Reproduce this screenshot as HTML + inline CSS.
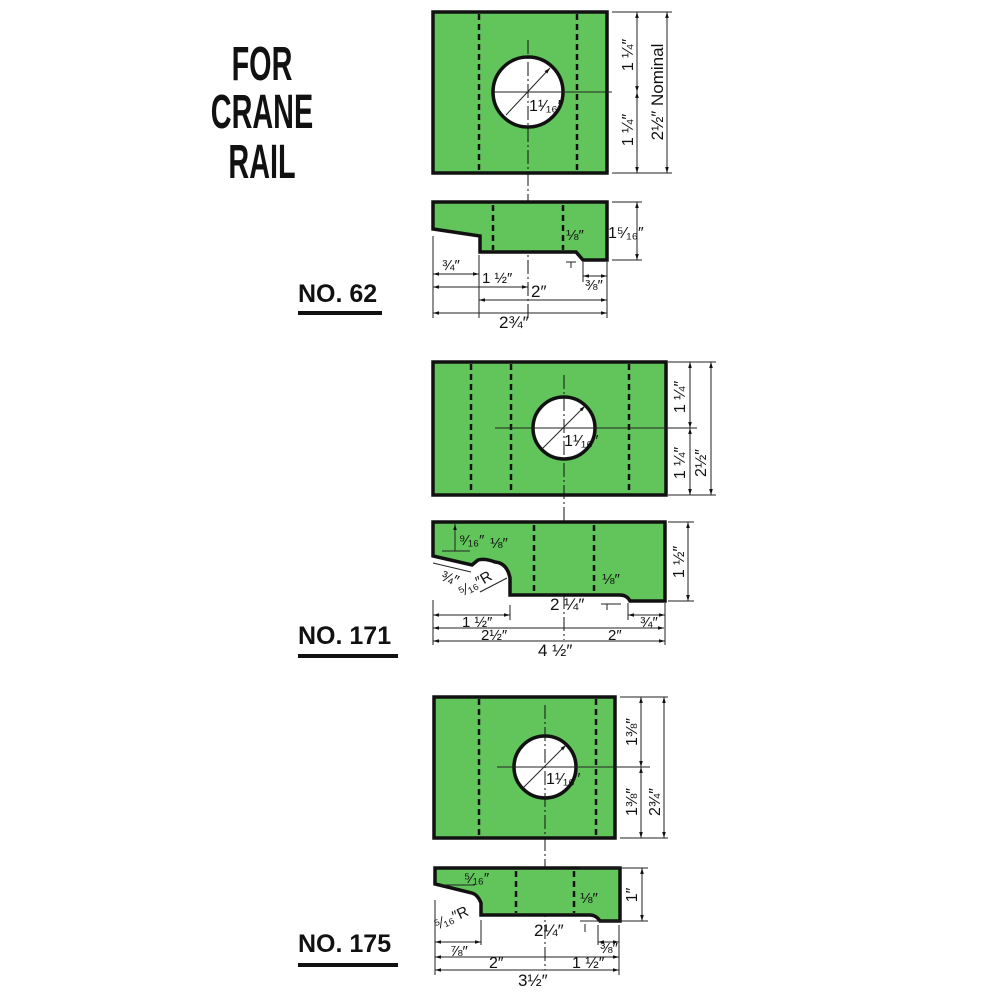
<!DOCTYPE html>
<html><head><meta charset="utf-8"><style>
html,body{margin:0;padding:0;background:#fff;width:1000px;height:1000px;overflow:hidden}
svg{display:block}
text{font-family:"Liberation Sans",sans-serif;fill:#111}
.g{fill:#62c55b;stroke:#111;stroke-width:3.5}
.d{stroke:#111;stroke-width:2.5;stroke-dasharray:6,4;fill:none}
.c{stroke:#111;stroke-width:1;stroke-dasharray:14,3,2,3;fill:none}
.l{stroke:#222;stroke-width:1;fill:none}
.h{fill:#fff;stroke:#111;stroke-width:3.5}
.s{font-size:15px}
</style></head><body>
<svg width="1000" height="1000" viewBox="0 0 1000 1000">
<defs><marker id="a" viewBox="0 0 10 10" refX="10" refY="5" markerWidth="6" markerHeight="6" orient="auto-start-reverse"><path d="M0,2 L10,5 L0,8z" fill="#111"/></marker></defs>

<g font-size="48" text-anchor="middle" font-weight="bold">
<text x="262" y="80" transform="translate(262,0) scale(0.6,1) translate(-262,0)">FOR</text>
<text x="262" y="128" transform="translate(262,0) scale(0.6,1) translate(-262,0)">CRANE</text>
<text x="262" y="178" transform="translate(262,0) scale(0.6,1) translate(-262,0)">RAIL</text>
</g>

<text x="298" y="302" font-size="25" font-weight="bold">NO. 62</text>
<rect x="298" y="311" width="84" height="4" fill="#111"/>
<text x="298" y="644" font-size="25" font-weight="bold">NO. 171</text>
<rect x="298" y="654" width="100" height="4" fill="#111"/>
<text x="298" y="952" font-size="25" font-weight="bold">NO. 175</text>
<rect x="298" y="963" width="100" height="4" fill="#111"/>

<!-- Part 62 -->
<rect class="g" x="433" y="12" width="174" height="161"/>
<line class="d" x1="479" y1="14" x2="479" y2="171"/>
<line class="d" x1="577" y1="14" x2="577" y2="171"/>
<circle class="h" cx="528" cy="92" r="35"/>
<line class="c" x1="528" y1="40" x2="528" y2="320"/>
<line class="l" x1="494" y1="92" x2="612" y2="92"/>
<line class="l" x1="506" y1="115" x2="550" y2="68" marker-end="url(#a)"/>
<text x="529" y="111" font-size="16">1¹⁄₁₆″</text>
<line class="l" x1="612" y1="12" x2="672" y2="12"/><line class="l" x1="612" y1="173" x2="672" y2="173"/>
<line class="l" x1="637" y1="12" x2="637" y2="92" marker-start="url(#a)" marker-end="url(#a)"/>
<line class="l" x1="637" y1="92" x2="637" y2="173" marker-start="url(#a)" marker-end="url(#a)"/>
<line class="l" x1="667" y1="12" x2="667" y2="173" marker-start="url(#a)" marker-end="url(#a)"/>
<text font-size="16" transform="translate(633,55) rotate(-90)" text-anchor="middle">1 ¼″</text>
<text font-size="16" transform="translate(633,130) rotate(-90)" text-anchor="middle">1 ¼″</text>
<text font-size="17" transform="translate(663,92) rotate(-90)" text-anchor="middle">2½″ Nominal</text>

<path class="g" d="M433,202 L607,202 L607,260 L583,260 L576,252 L480,252 L480,236 L433,229 Z"/>
<line class="d" x1="493" y1="205" x2="493" y2="250"/>
<line class="d" x1="563" y1="205" x2="563" y2="250"/>
<line class="l" x1="612" y1="202" x2="642" y2="202"/><line class="l" x1="612" y1="260" x2="642" y2="260"/>
<line class="l" x1="637" y1="202" x2="637" y2="260" marker-start="url(#a)" marker-end="url(#a)"/>
<text font-size="16" x="608" y="238">1⁵⁄₁₆″</text>
<text class="s" x="566" y="240">⅛″</text>
<line class="l" x1="571" y1="262" x2="571" y2="268"/><line class="l" x1="566" y1="262" x2="576" y2="262"/>
<line class="l" x1="433" y1="236" x2="433" y2="318"/>
<line class="l" x1="479" y1="255" x2="479" y2="318"/>
<line class="l" x1="607" y1="262" x2="607" y2="318"/>
<line class="l" x1="583" y1="262" x2="583" y2="282"/>
<line class="l" x1="433" y1="274" x2="479" y2="274" marker-start="url(#a)" marker-end="url(#a)"/>
<text class="s" x="442" y="270">¾″</text>
<line class="l" x1="433" y1="287" x2="528" y2="287" marker-start="url(#a)" marker-end="url(#a)"/>
<text class="s" x="482" y="283">1 ½″</text>
<line class="l" x1="583" y1="276" x2="607" y2="276" marker-start="url(#a)" marker-end="url(#a)"/>
<text class="s" x="585" y="290">⅜″</text>
<line class="l" x1="479" y1="300" x2="607" y2="300" marker-start="url(#a)" marker-end="url(#a)"/>
<text font-size="17" x="531" y="297">2″</text>
<line class="l" x1="433" y1="313" x2="607" y2="313" marker-start="url(#a)" marker-end="url(#a)"/>
<text font-size="17" x="499" y="328">2¾″</text>

<!-- Part 171 -->
<rect class="g" x="433" y="362" width="233" height="133"/>
<line class="d" x1="471" y1="364" x2="471" y2="493"/>
<line class="d" x1="511" y1="364" x2="511" y2="493"/>
<line class="d" x1="629" y1="364" x2="629" y2="493"/>
<circle class="h" cx="564" cy="428" r="31"/>
<line class="c" x1="564" y1="375" x2="564" y2="640"/>
<line class="l" x1="495" y1="428" x2="697" y2="428"/>
<line class="l" x1="542" y1="449" x2="585" y2="406" marker-end="url(#a)"/>
<text x="564" y="446" font-size="16">1¹⁄₁₆″</text>
<line class="l" x1="668" y1="362" x2="716" y2="362"/><line class="l" x1="668" y1="495" x2="716" y2="495"/>
<line class="l" x1="690" y1="362" x2="690" y2="428" marker-start="url(#a)" marker-end="url(#a)"/>
<line class="l" x1="690" y1="428" x2="690" y2="495" marker-start="url(#a)" marker-end="url(#a)"/>
<line class="l" x1="711" y1="362" x2="711" y2="495" marker-start="url(#a)" marker-end="url(#a)"/>
<text font-size="16" transform="translate(685,397) rotate(-90)" text-anchor="middle">1 ¼″</text>
<text font-size="16" transform="translate(685,463) rotate(-90)" text-anchor="middle">1 ¼″</text>
<text font-size="16" transform="translate(706,463) rotate(-90)" text-anchor="middle">2½″</text>

<path class="g" d="M433,522 L665,522 L665,601 L630,601 Q627,595 620,595 L510,595 L510,578 Q507,563 495,562 Q485,558 478,560 L472,565 L433,556 Z"/>
<line class="d" x1="534" y1="525" x2="534" y2="593"/>
<line class="d" x1="594" y1="525" x2="594" y2="593"/>
<line class="l" x1="668" y1="522" x2="694" y2="522"/><line class="l" x1="668" y1="601" x2="694" y2="601"/>
<line class="l" x1="688" y1="522" x2="688" y2="601" marker-start="url(#a)" marker-end="url(#a)"/>
<text font-size="16" transform="translate(684,562) rotate(-90)" text-anchor="middle">1 ½″</text>
<line class="l" x1="455" y1="524" x2="455" y2="551" marker-start="url(#a)"/>
<line class="l" x1="442" y1="551" x2="470" y2="551"/>
<text class="s" x="459" y="545">⁹⁄₁₆″</text>
<text class="s" x="490" y="548">⅛″</text>
<text class="s" x="602" y="584">⅛″</text>
<line class="l" x1="601" y1="604" x2="621" y2="604"/><line class="l" x1="607" y1="604" x2="607" y2="610"/>
<line class="l" x1="433" y1="563" x2="471" y2="572"/>
<text class="s" x="440" y="580" transform="rotate(20 440 580)">¾″</text>
<line class="l" x1="480" y1="592" x2="507" y2="578"/>
<text class="s" x="462" y="597" transform="rotate(-30 462 597)">⁵⁄₁₆″R</text>
<line class="l" x1="433" y1="600" x2="433" y2="645"/>
<line class="l" x1="510" y1="605" x2="510" y2="620"/>
<line class="l" x1="628" y1="603" x2="628" y2="620"/>
<line class="l" x1="665" y1="603" x2="665" y2="645"/>
<text font-size="17" x="550" y="610">2 ¼″</text>
<line class="l" x1="433" y1="615" x2="510" y2="615" marker-start="url(#a)" marker-end="url(#a)"/>
<text class="s" x="462" y="627">1 ½″</text>
<line class="l" x1="628" y1="615" x2="665" y2="615" marker-start="url(#a)" marker-end="url(#a)"/>
<text class="s" x="640" y="627">¾″</text>
<line class="l" x1="433" y1="628" x2="664" y2="628" marker-start="url(#a)" marker-end="url(#a)"/>
<text class="s" x="481" y="640">2½″</text>
<text class="s" x="608" y="640">2″</text>
<line class="l" x1="433" y1="641" x2="665" y2="641" marker-start="url(#a)" marker-end="url(#a)"/>
<text font-size="17" x="538" y="656">4 ½″</text>

<!-- Part 175 -->
<rect class="g" x="434" y="697" width="181" height="141"/>
<line class="d" x1="479" y1="699" x2="479" y2="836"/>
<line class="d" x1="596" y1="699" x2="596" y2="836"/>
<circle class="h" cx="545" cy="767" r="31"/>
<line class="c" x1="545" y1="705" x2="545" y2="970"/>
<line class="l" x1="497" y1="767" x2="650" y2="767"/>
<line class="l" x1="523" y1="788" x2="566" y2="745" marker-end="url(#a)"/>
<text x="546" y="784" font-size="16">1¹⁄₁₆″</text>
<line class="l" x1="620" y1="697" x2="668" y2="697"/><line class="l" x1="620" y1="838" x2="668" y2="838"/>
<line class="l" x1="641" y1="697" x2="641" y2="767" marker-start="url(#a)" marker-end="url(#a)"/>
<line class="l" x1="641" y1="767" x2="641" y2="838" marker-start="url(#a)" marker-end="url(#a)"/>
<line class="l" x1="664" y1="697" x2="664" y2="838" marker-start="url(#a)" marker-end="url(#a)"/>
<text font-size="16" transform="translate(637,732) rotate(-90)" text-anchor="middle">1⅜″</text>
<text font-size="16" transform="translate(637,802) rotate(-90)" text-anchor="middle">1⅜″</text>
<text font-size="16" transform="translate(660,802) rotate(-90)" text-anchor="middle">2¾″</text>

<path class="g" d="M435,868 L620,868 L620,921 L600,921 Q596,915 590,915 L481,915 L481,903 Q478,895 472,893 L435,884 Z"/>
<line class="d" x1="516" y1="871" x2="516" y2="913"/>
<line class="d" x1="574" y1="871" x2="574" y2="913"/>
<line class="l" x1="580" y1="868" x2="648" y2="868"/><line class="l" x1="580" y1="921" x2="648" y2="921"/>
<line class="l" x1="642" y1="868" x2="642" y2="921" marker-start="url(#a)" marker-end="url(#a)"/>
<text font-size="16" transform="translate(637,895) rotate(-90)" text-anchor="middle">1″</text>
<text class="s" x="464" y="883">⁵⁄₁₆″</text>
<line class="l" x1="440" y1="885" x2="475" y2="885"/>
<text class="s" x="580" y="903">⅛″</text>
<line class="l" x1="585" y1="924" x2="585" y2="932"/>
<text class="s" x="437" y="930" transform="rotate(-25 437 930)">⁵⁄₁₆″R</text>
<line class="l" x1="435" y1="900" x2="435" y2="975"/>
<line class="l" x1="481" y1="920" x2="481" y2="945"/>
<line class="l" x1="598" y1="925" x2="598" y2="945"/>
<line class="l" x1="619" y1="925" x2="619" y2="975"/>
<text font-size="17" x="534" y="936">2¼″</text>
<line class="l" x1="435" y1="942" x2="481" y2="942" marker-start="url(#a)" marker-end="url(#a)"/>
<text class="s" x="450" y="956">⅞″</text>
<line class="l" x1="598" y1="942" x2="619" y2="942" marker-start="url(#a)" marker-end="url(#a)"/>
<text class="s" x="600" y="953">⅜″</text>
<line class="l" x1="435" y1="957" x2="619" y2="957" marker-start="url(#a)" marker-end="url(#a)"/>
<text font-size="16" x="489" y="968">2″</text>
<text font-size="16" x="572" y="968">1 ½″</text>
<line class="l" x1="435" y1="970" x2="619" y2="970" marker-start="url(#a)" marker-end="url(#a)"/>
<text font-size="17" x="518" y="986">3½″</text>
</svg>
</body></html>
